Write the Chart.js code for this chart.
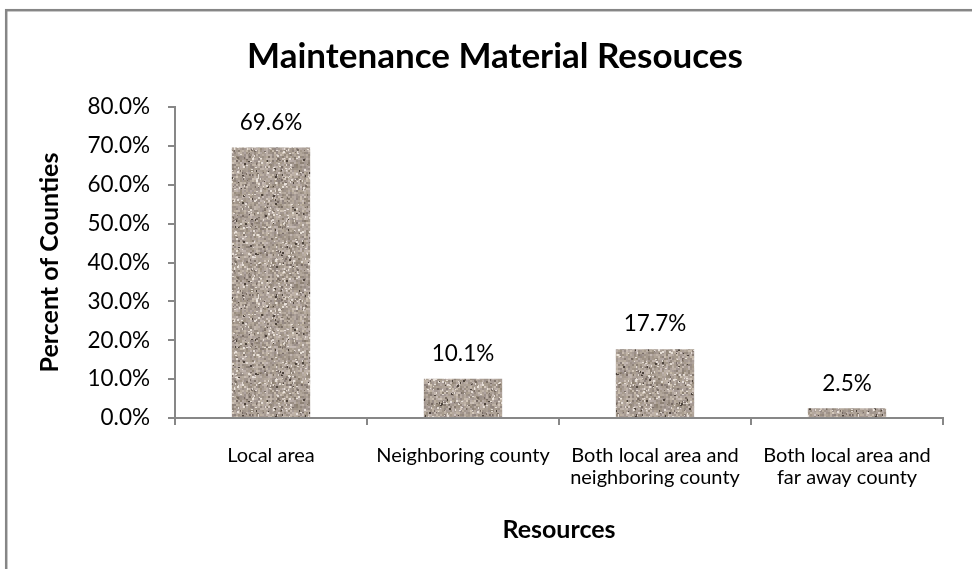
<!DOCTYPE html>
<html>
<head>
<meta charset="utf-8">
<script src="https://cdn.jsdelivr.net/npm/chart.js@4"></script>
<style>
  html, body { margin: 0; padding: 0; background: #ffffff; }
  #wrap { position: relative; width: 972px; height: 569px; }
</style>
</head>
<body>
<div id="wrap"><canvas id="c" width="972" height="569"></canvas></div>
<script>
// ---- data ----
const categories = [
  ["Local area"],
  ["Neighboring county"],
  ["Both local area and", "neighboring county"],
  ["Both local area and", "far away county"]
];
const percentValues = [69.6, 10.1, 17.7, 2.5];
const yTickMin = 0;
const yTickMax = 80;
const yTickStep = 10;
const chartTitle = "Maintenance Material Resouces";
const yAxisTitle = "Percent of Counties";
const xAxisTitle = "Resources";

// ---- granite-like texture (seeded, deterministic) ----
function makeGranite() {
  const size = 120;
  const cv = document.createElement('canvas');
  cv.width = size; cv.height = size;
  const g = cv.getContext('2d');
  let seed = 98765;
  function rnd() { seed = (seed * 1103515245 + 12345) % 2147483648; return seed / 2147483648; }
  // base mottled layer of 2x2 cells
  for (let y = 0; y < size; y += 2) {
    for (let x = 0; x < size; x += 2) {
      const v = (rnd() + rnd() + rnd()) / 3 - 0.5; // roughly -0.5..0.5
      const r = Math.round(172 + v * 95);
      const gg = Math.round(160 + v * 95);
      const b = Math.round(150 + v * 95 + (rnd() - 0.5) * 10);
      g.fillStyle = `rgb(${r},${gg},${b})`;
      g.fillRect(x, y, 2, 2);
    }
  }
  // light and dark specks
  for (let i = 0; i < 700; i++) {
    const x = Math.floor(rnd() * size);
    const y = Math.floor(rnd() * size);
    const t = rnd();
    if (t < 0.55) g.fillStyle = 'rgba(238,232,224,0.85)';
    else if (t < 0.85) g.fillStyle = 'rgba(110,98,90,0.8)';
    else g.fillStyle = 'rgba(60,50,44,0.85)';
    g.fillRect(x, y, rnd() < 0.5 ? 1 : 2, rnd() < 0.5 ? 1 : 2);
  }
  return g.createPattern(cv, 'repeat');
}

const axisColor = '#878787';
const FONT = 'Lato, "Noto Sans", sans-serif';

const framePlugin = {
  id: 'frame',
  beforeDraw(chart) {
    const ctx = chart.ctx;
    ctx.save();
    ctx.fillStyle = '#ffffff';
    ctx.fillRect(0, 0, chart.width, chart.height);
    ctx.strokeStyle = '#868686';
    ctx.lineWidth = 2.5;
    ctx.strokeRect(6.2, 10.2, 1000, 1000);
    // chart title
    ctx.fillStyle = '#000000';
    ctx.font = 'bold 35px ' + FONT;
    ctx.textAlign = 'center';
    ctx.textBaseline = 'middle';
    ctx.fillText(chartTitle, 495, 57);
    ctx.restore();
  }
};

const labelPlugin = {
  id: 'valueLabels',
  afterDatasetsDraw(chart) {
    const ctx = chart.ctx;
    const meta = chart.getDatasetMeta(0);
    ctx.save();
    ctx.fillStyle = '#000000';
    ctx.font = '22.5px ' + FONT;
    ctx.textAlign = 'center';
    ctx.textBaseline = 'middle';
    meta.data.forEach((bar, i) => {
      ctx.fillText(percentValues[i].toFixed(1) + '%', bar.x, bar.y - 25);
    });
    ctx.restore();
  }
};

new Chart(document.getElementById('c'), {
  type: 'bar',
  data: {
    labels: categories,
    datasets: [{
      data: percentValues,
      backgroundColor: makeGranite(),
      borderWidth: 0,
      categoryPercentage: 1.0,
      barPercentage: 0.408
    }]
  },
  options: {
    responsive: false,
    animation: false,
    devicePixelRatio: 1,
    layout: { padding: { left: 0, right: 29, top: 107, bottom: 0 } },
    plugins: {
      legend: { display: false },
      tooltip: { enabled: false },
      title: { display: false }
    },
    scales: {
      x: {
        grid: { display: true, drawOnChartArea: false, drawTicks: true, tickLength: 7, color: axisColor, lineWidth: 2, offset: true },
        border: { display: true, color: axisColor, width: 2 },
        ticks: {
          color: '#000000',
          font: { family: FONT, size: 20, lineHeight: 1.12 },
          padding: 19,
          maxRotation: 0,
          autoSkip: false
        },
        title: {
          display: true,
          text: xAxisTitle,
          color: '#000000',
          font: { family: FONT, size: 25, weight: 'bold', lineHeight: 1.2 },
          padding: { top: 0, bottom: 24 }
        },
        afterFit(scale) { scale.height = 151; }
      },
      y: {
        min: yTickMin,
        max: yTickMax,
        grid: { display: true, drawOnChartArea: false, drawTicks: true, tickLength: 7, color: axisColor, lineWidth: 2 },
        border: { display: true, color: axisColor, width: 2 },
        ticks: {
          stepSize: yTickStep,
          color: '#000000',
          font: { family: FONT, size: 22.5 },
          padding: 18,
          callback: (v) => Number(v).toFixed(1) + '%'
        },
        title: {
          display: true,
          text: yAxisTitle,
          color: '#000000',
          font: { family: FONT, size: 25, weight: 'bold', lineHeight: 1.2 },
          padding: { top: 35, bottom: 0 }
        },
        afterFit(scale) { scale.width = 175; }
      }
    }
  },
  plugins: [framePlugin, labelPlugin]
});
</script>
</body>
</html>
